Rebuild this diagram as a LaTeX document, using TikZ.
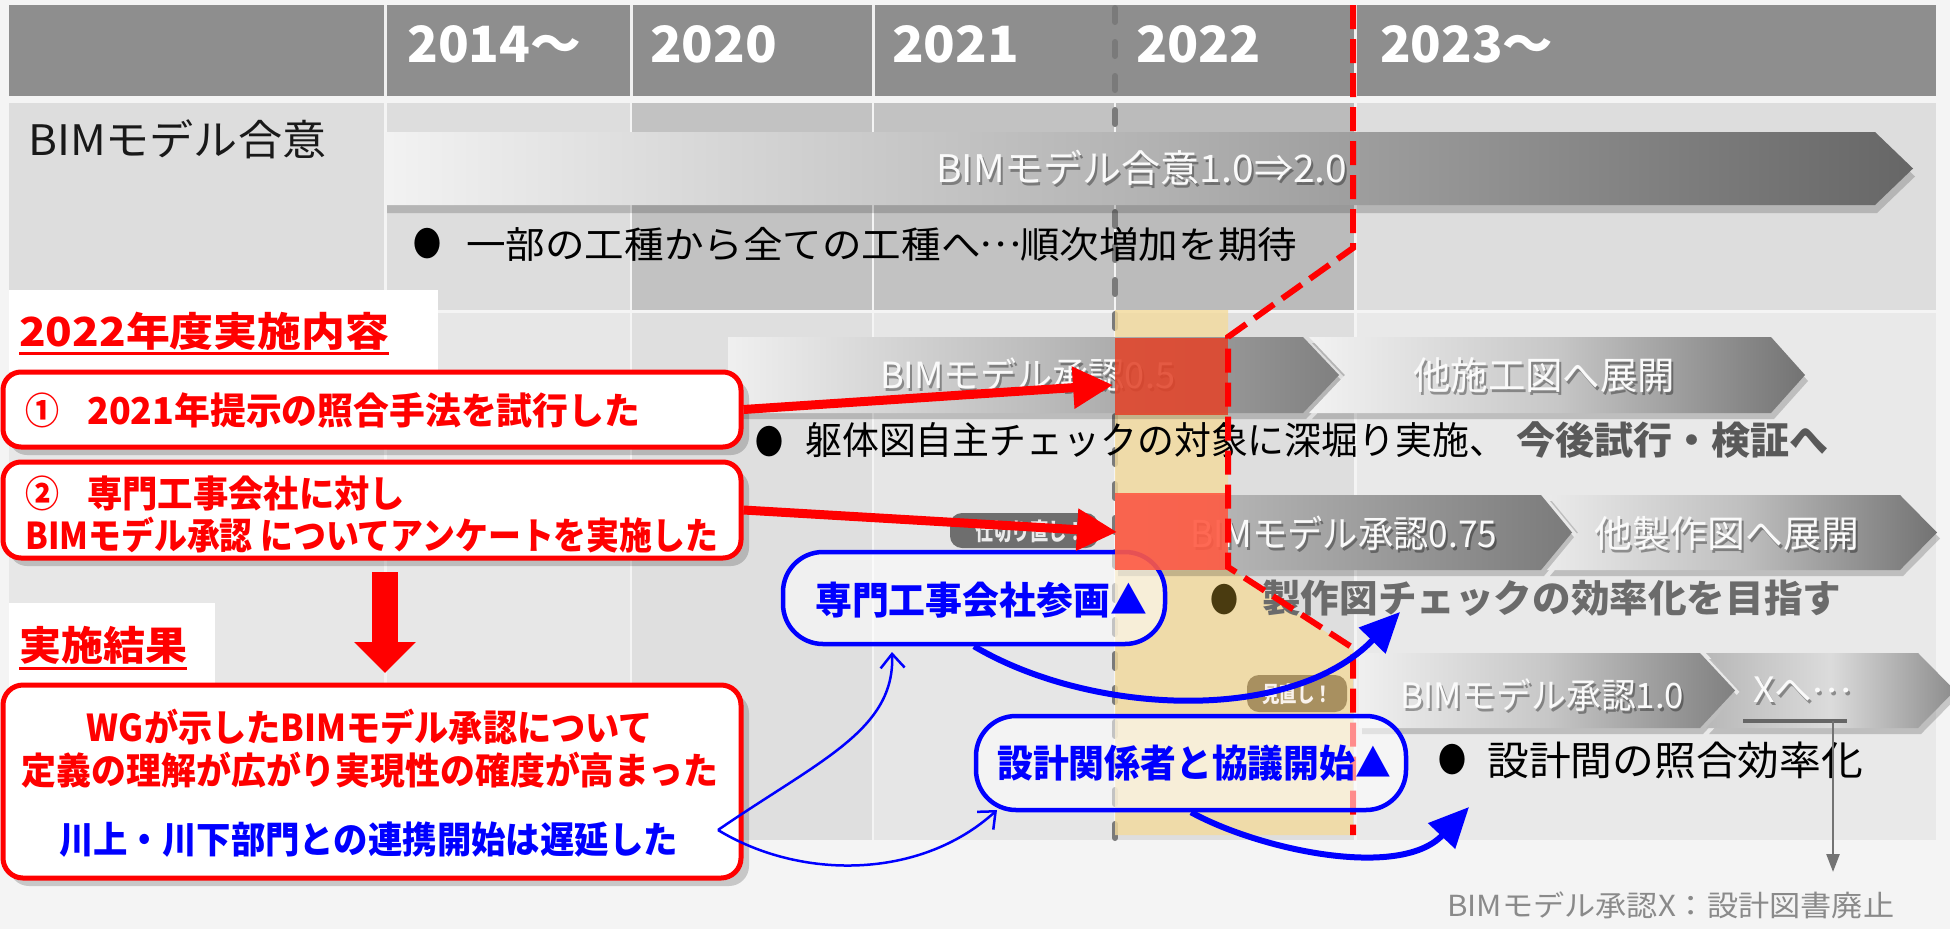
\documentclass[tikz,border=0pt]{standalone}
\usepackage{fontspec}
\usepackage{graphicx}
\setmainfont{Noto Sans CJK JP}
\usetikzlibrary{arrows.meta}
\newcommand\fsz[1]{\fontsize{#1pt}{#1pt}\selectfont}
\newcommand\fw[2]{\resizebox{#1pt}{\height}{#2}}
\newcommand\jdots{\makebox[1em]{\raisebox{.3em}{…}}}
\newcommand\alabel[6]{%
  \node[inner sep=0pt, anchor=west, font=\fsz{#4}, text=black, opacity=.35] (#1s) at (#2+2,#3+3) {\fw{#5}{#6}};
  \node[inner sep=0pt, anchor=west, font=\fsz{#4}, text=white!96!gray] (#1) at (#2,#3) {\fw{#5}{#6}};}
\definecolor{bgc}{HTML}{F4F4F4}
\definecolor{hdr}{HTML}{8E8E8E}
\definecolor{clt}{HTML}{DDDDDD}
\definecolor{cdk}{HTML}{C2C2C2}
\definecolor{cdk2}{HTML}{BBBBBB}
\definecolor{r2a}{HTML}{E7E7E7}
\definecolor{r2b}{HTML}{DFDFDF}
\definecolor{r2c}{HTML}{E6E6E6}
\definecolor{r2d}{HTML}{DEDEDE}
\definecolor{r2e}{HTML}{E9E9E9}
\definecolor{sepc}{HTML}{F0F0F0}
\definecolor{beige}{RGB}{244,219,156}
\definecolor{pr}{HTML}{FF0000}
\definecolor{pb}{HTML}{0000FF}
\definecolor{rectA}{RGB}{226,68,42}
\definecolor{rectB}{RGB}{255,90,66}
\definecolor{pillA}{HTML}{6E6E6E}
\definecolor{pillB}{HTML}{A89060}
\definecolor{brownb}{HTML}{4A3B10}
\definecolor{dgray}{HTML}{7A7A7A}
\definecolor{capg}{HTML}{8A8A8A}
\begin{document}
\begin{tikzpicture}[x=1pt,y=-1pt,
  txt/.style={inner sep=0pt, anchor=west},
  hdrtxt/.style={inner sep=0pt, anchor=base west, text=white, font=\fsz{50}\bfseries},
  redbox/.style={draw=pr, line width=5pt, fill=white, rounded corners=18pt, inner sep=0pt},
  bluebox/.style={draw=pb, line width=4.5pt, fill=white, fill opacity=0.55, rounded corners=40pt, inner sep=0pt},
  redtxt/.style={txt, text=pr, font=\fsz{37}\bfseries},
  bluetxt/.style={txt, text=pb, font=\fsz{38}\bfseries},
  shd/.style={black, opacity=.18},
  redarr/.style={pr, line width=9pt, -{Triangle[length=40pt,width=40pt]}},
  bluearr/.style={pb, line width=6pt, -{Triangle[length=40pt,width=36pt]}},
  thinarr/.style={pb, line width=2.5pt, -{Straight Barb[length=14pt,width=24pt]}}
]
\fill[bgc] (0,0) rectangle (1950,929);
\useasboundingbox (0,0) rectangle (1950,929);

% header
\fill[hdr] (9,5) rectangle (1936,96);
\foreach \xx in {385,631,873,1355} \draw[sepc, line width=3pt] (\xx,5) -- (\xx,96);
% row 1
\fill[clt] (9,103) rectangle (384,310);
\fill[clt] (387,103) rectangle (630,310);
\fill[cdk] (632,103) rectangle (872,310);
\fill[cdk] (874,103) rectangle (1114,310);
\fill[cdk2] (1116,103) rectangle (1354,310);
\fill[clt] (1357,103) rectangle (1936,310);
% row 2
\fill[r2a] (9,313) rectangle (384,840);
\fill[r2a] (387,313) rectangle (630,840);
\fill[r2b] (632,313) rectangle (872,840);
\fill[r2c] (874,313) rectangle (1114,840);
\fill[r2d] (1116,313) rectangle (1354,840);
\fill[r2e] (1357,313) rectangle (1936,840);

% header texts
\node[hdrtxt] (h1) at (407,62) {\fw{174}{2014～}};
\node[hdrtxt] (h2) at (650,62) {\fw{127}{2020}};
\node[hdrtxt] (h3) at (892,62) {\fw{127}{2021}};
\node[hdrtxt] (h4) at (1136,62) {\fw{125}{2022}};
\node[hdrtxt] (h5) at (1380,62) {\fw{173}{2023～}};

% grey dashed year line
\draw[dgray, line width=6pt, line cap=round, dash pattern=on 14pt off 20pt] (1115,8) -- (1115,845);
% beige zone
\fill[beige, opacity=.8] (1115,310) -- (1228,310) -- (1228,567) -- (1353,650) -- (1353,835) -- (1115,835) -- cycle;

% left white title areas
\fill[white] (9,290) rectangle (438,372);
\fill[white] (9,603) rectangle (215,690);

% row 1 label
\node[txt, font=\fsz{42}, text=black!90] (lab1) at (28,139) {\fw{298}{BIMモデル合意}};

% big arrow row 1
\begin{scope}[shift={(2,8)}]
\fill[shd] (385,132) -- (1875,132) -- (1913,168.5) -- (1875,205) -- (385,205) -- cycle;
\end{scope}
\shade[left color=white!95!black, right color=black!60, middle color=black!30] (385,132) -- (1875,132) -- (1913,168.5) -- (1875,205) -- (385,205) -- cycle;
\alabel{a0t}{936}{168}{38}{411}{BIMモデル合意1.0⇒2.0}
\node[txt, font=\fsz{34}] (bu1) at (413,244) {\fw{28}{●}};
\node[txt, font=\fsz{37}] (t1) at (466,244) {\fw{831}{一部の工種から全ての工種へ\jdots 順次増加を期待}};

% row 0.5
\begin{scope}[shift={(3,6)}]
\fill[shd] (728,337) -- (1303,337) -- (1339,375) -- (1303,413) -- (728,413) -- cycle;
\fill[shd] (1309,337) -- (1771,337) -- (1805,375) -- (1771,413) -- (1309,413) -- (1345,375) -- cycle;
\end{scope}
\shade[left color=white!94!black, right color=black!50, middle color=black!26] (728,337) -- (1303,337) -- (1339,375) -- (1303,413) -- (728,413) -- cycle;
\shade[left color=white!95!black, right color=black!55, middle color=black!22] (1309,337) -- (1771,337) -- (1805,375) -- (1771,413) -- (1309,413) -- (1345,375) -- cycle;
\alabel{a5t}{880}{375}{36}{295}{BIMモデル承認0.5}
\alabel{c5t}{1413}{375}{38}{262}{他施工図へ展開}
\fill[rectA, opacity=.88] (1115,338) rectangle (1228,415);
\node[txt, font=\fsz{34}] (bu2) at (755,442) {\fw{28}{●}};
\node[txt, font=\fsz{38}] (t2a) at (805,440) {\fw{701}{躯体図自主チェックの対象に深堀り実施、}};
\node[txt, font=\fsz{38}\bfseries, text=black!65] (t2b) at (1516,440) {\fw{312}{今後試行・検証へ}};

% row 0.75
\node[fill=pillA, rounded corners=12pt, minimum width=148pt, minimum height=35pt, inner sep=0pt] (p1) at (1024,530.5) {};
\node[inner sep=0pt, font=\fsz{24}\bfseries, text=white!92!black] (p1t) at (1030,531) {\fw{110}{仕切り直し！}};
\begin{scope}[shift={(3,6)}]
\fill[shd] (1115,495) -- (1541,495) -- (1572,532.5) -- (1541,570) -- (1115,570) -- cycle;
\fill[shd] (1547,495) -- (1900,495) -- (1937,532.5) -- (1900,570) -- (1547,570) -- (1578,532.5) -- cycle;
\end{scope}
\shade[left color=black!22, right color=black!52] (1115,495) -- (1541,495) -- (1572,532.5) -- (1541,570) -- (1115,570) -- cycle;
\shade[left color=white!92!black, right color=black!55, middle color=black!25] (1547,495) -- (1900,495) -- (1937,532.5) -- (1900,570) -- (1547,570) -- (1578,532.5) -- cycle;
\alabel{a75t}{1190}{533}{37}{307}{BIMモデル承認0.75}
\alabel{c75t}{1594}{533}{37}{265}{他製作図へ展開}

% blue box 1
\node[bluebox, minimum width=382pt, minimum height=92pt] (bb1) at (974,598) {};
\node[bluetxt] (bt1) at (815,600) {\fw{332}{専門工事会社参画▲}};
\fill[rectB, opacity=.9] (1115,493) rectangle (1228,570);
\node[txt, font=\fsz{34}, text=brownb] (bu3) at (1210,600) {\fw{28}{●}};
\node[txt, font=\fsz{38}\bfseries, text=black!58] (t3) at (1262,598) {\fw{579}{製作図チェックの効率化を目指す}};

% row 1.0
\node[fill=pillB, rounded corners=12pt, minimum width=100pt, minimum height=37pt, inner sep=0pt] (p2) at (1297,693.5) {};
\node[inner sep=0pt, font=\fsz{22}\bfseries, text=white!90!brown] (p2t) at (1297,694) {\fw{70}{見直し！}};
\begin{scope}[shift={(3,6)}]
\fill[shd] (1359,653) -- (1700,653) -- (1735,690.5) -- (1700,728) -- (1359,728) -- cycle;
\fill[shd] (1706,653) -- (1918,653) -- (1955,690.5) -- (1918,728) -- (1706,728) -- (1741,690.5) -- cycle;
\end{scope}
\shade[left color=white!94!black, right color=black!50, middle color=black!22] (1359,653) -- (1700,653) -- (1735,690.5) -- (1700,728) -- (1359,728) -- cycle;
\shade[left color=black!28, right color=black!45, middle color=black!14] (1706,653) -- (1918,653) -- (1955,690.5) -- (1918,728) -- (1706,728) -- (1741,690.5) -- cycle;
\alabel{a10t}{1400}{695}{35}{284}{BIMモデル承認1.0}
\alabel{c10t}{1753}{690}{35}{97}{Xへ\jdots}
\draw[black!60, line width=4pt] (1743,721) -- (1847,721);
\node[txt, font=\fsz{34}] (bu4) at (1438,760) {\fw{28}{●}};
\node[txt, font=\fsz{40}] (t4) at (1487,760) {\fw{376}{設計間の照合効率化}};
\node[txt, font=\fsz{29}, text=capg] (cap) at (1447,905) {\fw{447}{BIMモデル承認X：設計図書廃止}};
\coordinate (xs) at (1833,721);
\coordinate (xe) at (1833,872);
\draw[black!55, line width=2.5pt, -{Triangle[length=18pt,width=13pt]}] (xs) -- (xe);

% red dashed boundary
\draw[pr, line width=6pt, dash pattern=on 24pt off 10pt] (1353,5) -- (1353,248) -- (1228,337) -- (1228,567) -- (1353,648) -- (1353,835);

% blue box 2
\node[bluebox, minimum width=430pt, minimum height=94pt] (bb2) at (1191,763) {};
\node[bluetxt] (bt2) at (997,763) {\fw{394}{設計関係者と協議開始▲}};

% left red boxes
\node[txt, font=\fsz{40}\bfseries, text=pr] (title1) at (19,331) {\fw{370}{2022年度実施内容}};
\draw[pr, line width=3pt] (19,353) -- (389,353);
\fill[shd, rounded corners=18pt] (9,380) rectangle (749,455);
\node[redbox, minimum width=738pt, minimum height=75pt] (b1) at (372,409.5) {};
\node[redtxt] (n1) at (25,410) {\fw{34}{①}};
\node[redtxt] (tb1) at (87,410) {\fw{553}{2021年提示の照合手法を試行した}};
\fill[shd, rounded corners=18pt] (9,470) rectangle (749,566);
\node[redbox, minimum width=738pt, minimum height=96pt] (b2) at (372,510) {};
\node[redtxt] (n2) at (25,493) {\fw{34}{②}};
\node[redtxt] (tb2) at (87,493) {\fw{318}{専門工事会社に対し}};
\node[redtxt] (tb3) at (25,535) {\fw{693}{BIMモデル承認 についてアンケートを実施した}};
\coordinate (da1) at (385,572);
\coordinate (da2) at (385,673);
\draw[pr, line width=26pt, -{Triangle[length=31pt,width=60pt]}] (da1) -- (da2);
\node[txt, font=\fsz{40}\bfseries, text=pr] (title2) at (19,645) {\fw{168}{実施結果}};
\draw[pr, line width=3pt] (19,668) -- (187,668);
\fill[shd, rounded corners=20pt] (9,693) rectangle (749,886);
\node[redbox, rounded corners=20pt, minimum width=738pt, minimum height=193pt] (b3) at (372,781.5) {};
\node[inner sep=0pt, font=\fsz{37}\bfseries, text=pr] (r1) at (370,727) {\fw{566}{WGが示したBIMモデル承認について}};
\node[inner sep=0pt, font=\fsz{37}\bfseries, text=pr] (r2) at (370,770) {\fw{696}{定義の理解が広がり実現性の確度が高まった}};
\node[inner sep=0pt, font=\fsz{37}\bfseries, text=pb] (r3) at (368.5,840) {\fw{619}{川上・川下部門との連携開始は遅延した}};

% red arrows
\coordinate (rt1) at (1113,385);
\coordinate (rt2) at (1117,532);
\draw[redarr] (b1.east) -- (rt1);
\draw[redarr] (b2.east) -- (rt2);

% blue arrows
\coordinate (ba1) at (1400,612);
\coordinate (ba2) at (1469,807);
\draw[bluearr] (bb1.south) .. controls (1090,715) and (1290,725) .. (ba1);
\draw[bluearr] (bb2.south) .. controls (1260,850) and (1400,880) .. (ba2);
\coordinate (rs) at (718,830);
\coordinate (ta1) at (892,652);
\coordinate (ta2) at (997,810);
\draw[thinarr] (rs) .. controls (820,760) and (895,730) .. (ta1);
\draw[thinarr] (rs) .. controls (800,880) and (920,880) .. (ta2);
\end{tikzpicture}
\end{document}
